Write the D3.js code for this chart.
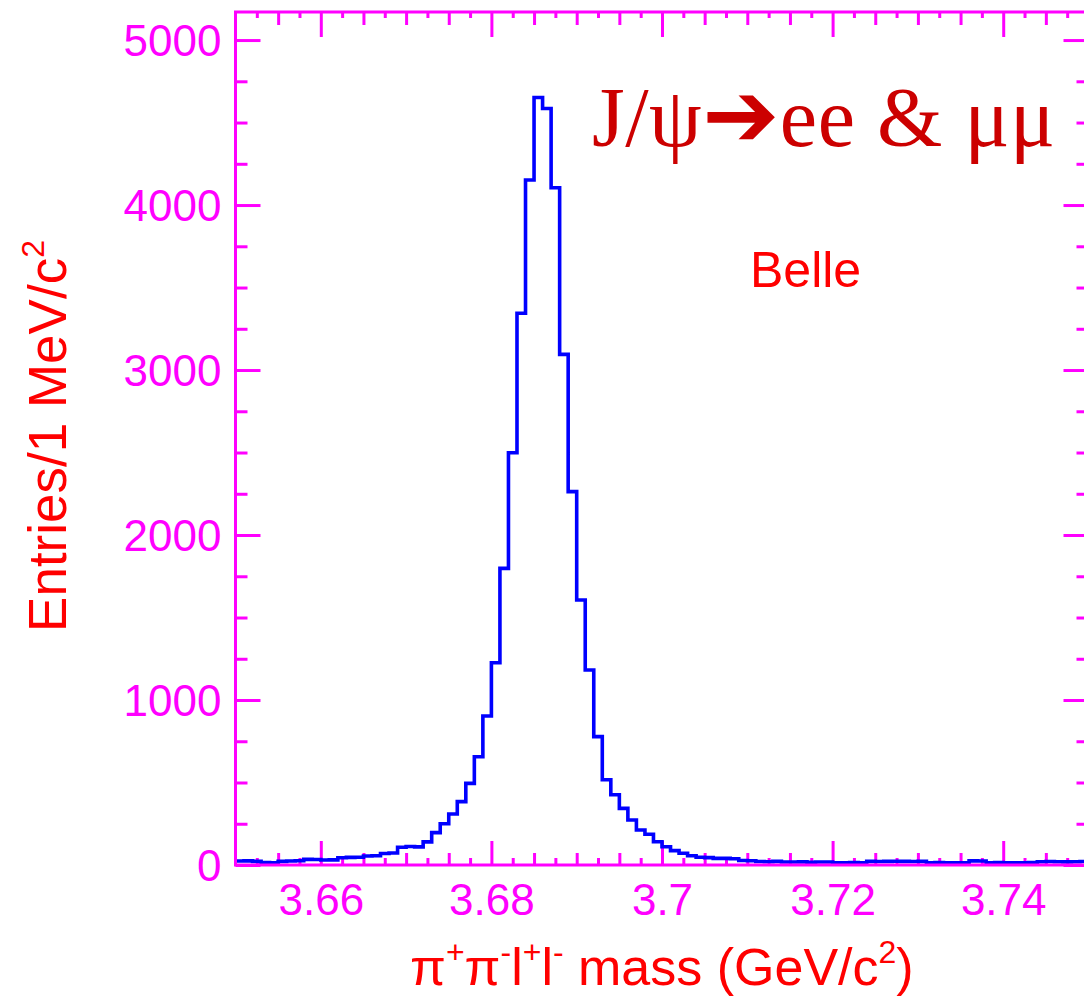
<!DOCTYPE html>
<html>
<head>
<meta charset="utf-8">
<script src="https://cdn.jsdelivr.net/npm/d3@7"></script>
<style>
  html, body { margin: 0; padding: 0; background: #ffffff; }
  svg { display: block; }
</style>
</head>
<body>
<svg id="chart" width="1084" height="996"></svg>
<script>
// pi+ pi- l+ l- invariant mass, 1 MeV bins from 3.65 to 3.75 GeV/c^2
const binStart = 3.65;
const binWidth = 0.001;
const counts = [
  24, 25, 22, 15, 14, 22, 24, 26, 34, 33,
  30, 31, 44, 46, 47, 55, 56, 70, 73, 108,
  112, 110, 140, 196, 250, 309, 384, 495, 656, 903,
  1226, 1798, 2499, 3344, 4152, 4652, 4585, 4105, 3095, 2263,
  1606, 1182, 778, 517, 426, 343, 273, 212, 186, 141,
  111, 87, 71, 56, 47, 45, 40, 40, 38, 27,
  26, 21, 20, 22, 18, 18, 19, 17, 18, 18,
  14, 14, 15, 14, 22, 21, 22, 23, 22, 21,
  22, 14, 15, 14, 13, 14, 25, 24, 14, 15,
  14, 13, 14, 15, 20, 21, 20, 19, 20, 21
];
const xDomain = [3.65, 3.75];
const yMax = 5170;
const xTickLabels = [3.66, 3.68, 3.70, 3.72, 3.74];
const yTickLabels = [0, 1000, 2000, 3000, 4000, 5000];

const AXIS = "#ff00ff";
const TITLE = "#ff0000";
const NOTE = "#cc0000";
const LINE = "#0000ff";
const SANS = "'Liberation Sans', Arial, Helvetica, sans-serif";
const SERIF = "'Liberation Serif', 'Times New Roman', serif";

const svg = d3.select("#chart");
svg.append("rect").attr("width", 1084).attr("height", 996).attr("fill", "#fff");

const frame = { left: 235.5, right: 1088.5, top: 12, bottom: 865 };
const x = d3.scaleLinear().domain(xDomain).range([frame.left, frame.right]);
const y = d3.scaleLinear().domain([0, yMax]).range([frame.bottom, frame.top]);

// Tick levels: major every 0.02, medium every 0.005, small every 0.0025
const xSteps = d3.range(1, 40).map(i => ({ i, v: +(binStart + i * 0.0025).toFixed(4) }));
const xMajor = xTickLabels;
const xMedium = xSteps.filter(d => d.i % 2 === 0 && d.i % 8 !== 4).map(d => d.v);
const xSmall = xSteps.filter(d => d.i % 2 === 1).map(d => d.v);
const yMinor = d3.range(1, 21).map(i => i * 250).filter(v => v % 1000 !== 0 && v < yMax);

function tickLayer(axis, tx, ty) {
  const g = svg.append("g").attr("transform", `translate(${tx},${ty})`).call(axis);
  g.select(".domain").remove();
  g.selectAll(".tick line").attr("stroke", AXIS).attr("stroke-width", 3);
  return g;
}

// Bottom and top axes: ticks point into the plot
[[xMajor, 24], [xMedium, 12], [xSmall, 7]].forEach(([vals, len]) => {
  tickLayer(d3.axisTop(x).tickValues(vals).tickSize(len).tickFormat(""), 0, frame.bottom);
  tickLayer(d3.axisBottom(x).tickValues(vals).tickSize(len === 7 ? 6 : len + 1).tickFormat(""), 0, frame.top);
});
// Left and right axes: ticks point inward
[[yTickLabels, 25], [yMinor, 12]].forEach(([vals, len]) => {
  tickLayer(d3.axisRight(y).tickValues(vals).tickSize(len).tickFormat(""), frame.left, 0);
  tickLayer(d3.axisLeft(y).tickValues(vals).tickSize(len).tickFormat(""), frame.right, 0);
});

// Tick labels
const xLab = svg.append("g").attr("transform", `translate(0,${frame.bottom})`)
  .call(d3.axisBottom(x).tickValues(xTickLabels).tickSize(0).tickFormat(d3.format("~g")));
xLab.select(".domain").remove();
xLab.selectAll("text").attr("y", 50).attr("dy", 0)
  .attr("fill", AXIS).style("font-family", SANS).style("font-size", "44px");

const yLab = svg.append("g").attr("transform", `translate(${frame.left},0)`)
  .call(d3.axisLeft(y).tickValues(yTickLabels).tickSize(0).tickPadding(14).tickFormat(d3.format("d")));
yLab.select(".domain").remove();
yLab.selectAll("text").attr("dy", "0.36em")
  .attr("fill", AXIS).style("font-family", SANS).style("font-size", "44px");

// Histogram outline
const pts = counts.map((c, k) => [binStart + k * binWidth, c]);
pts.push([binStart + counts.length * binWidth, counts[counts.length - 1]]);
const step = d3.line().x(d => x(d[0])).y(d => y(d[1])).curve(d3.curveStepAfter);
svg.append("path").datum(pts)
  .attr("d", step).attr("fill", "none")
  .attr("stroke", LINE).attr("stroke-width", 3.6).attr("stroke-linejoin", "miter");

// Frame
svg.append("rect")
  .attr("x", frame.left).attr("y", frame.top)
  .attr("width", frame.right - frame.left).attr("height", frame.bottom - frame.top)
  .attr("fill", "none").attr("stroke", AXIS).attr("stroke-width", 3);

// Rich text helper: [text, isSuperscript] runs
function richText(t, runs, supSize, lift) {
  let raised = false;
  runs.forEach(([s, isSup]) => {
    const sp = t.append("tspan").text(s);
    if (isSup && !raised) { sp.attr("dy", -lift); raised = true; }
    else if (!isSup && raised) { sp.attr("dy", lift); raised = false; }
    if (isSup) sp.style("font-size", supSize);
  });
}

// Axis titles
const xt = svg.append("text").attr("x", 410).attr("y", 985)
  .attr("fill", TITLE).style("font-family", SANS).style("font-size", "52px");
richText(xt, [["π"], ["+", true], ["π"], ["-", true], ["l"], ["+", true], ["l"], ["-", true],
  [" mass (GeV/c"], ["2", true], [")"]], "32px", 22);

const yt = svg.append("text")
  .attr("transform", "translate(66,436) rotate(-90)")
  .attr("text-anchor", "middle")
  .attr("fill", TITLE).style("font-family", SANS).style("font-size", "53px");
richText(yt, [["Entries/1 MeV/c"], ["2", true]], "32px", 22);

// Annotations
svg.append("text").attr("x", 750).attr("y", 287)
  .attr("fill", TITLE).style("font-family", SANS).style("font-size", "50px").text("Belle");

const note = svg.append("text").attr("x", 592).attr("y", 146)
  .attr("textLength", 463).attr("lengthAdjust", "spacing")
  .attr("fill", NOTE).style("font-family", SERIF).style("font-size", "84px");
note.append("tspan").text("J/ψ");
note.append("tspan").style("font-family", "'DejaVu Sans', sans-serif").style("font-size", "92px").text("➔");
note.append("tspan").text("ee & μμ");
</script>
</body>
</html>
